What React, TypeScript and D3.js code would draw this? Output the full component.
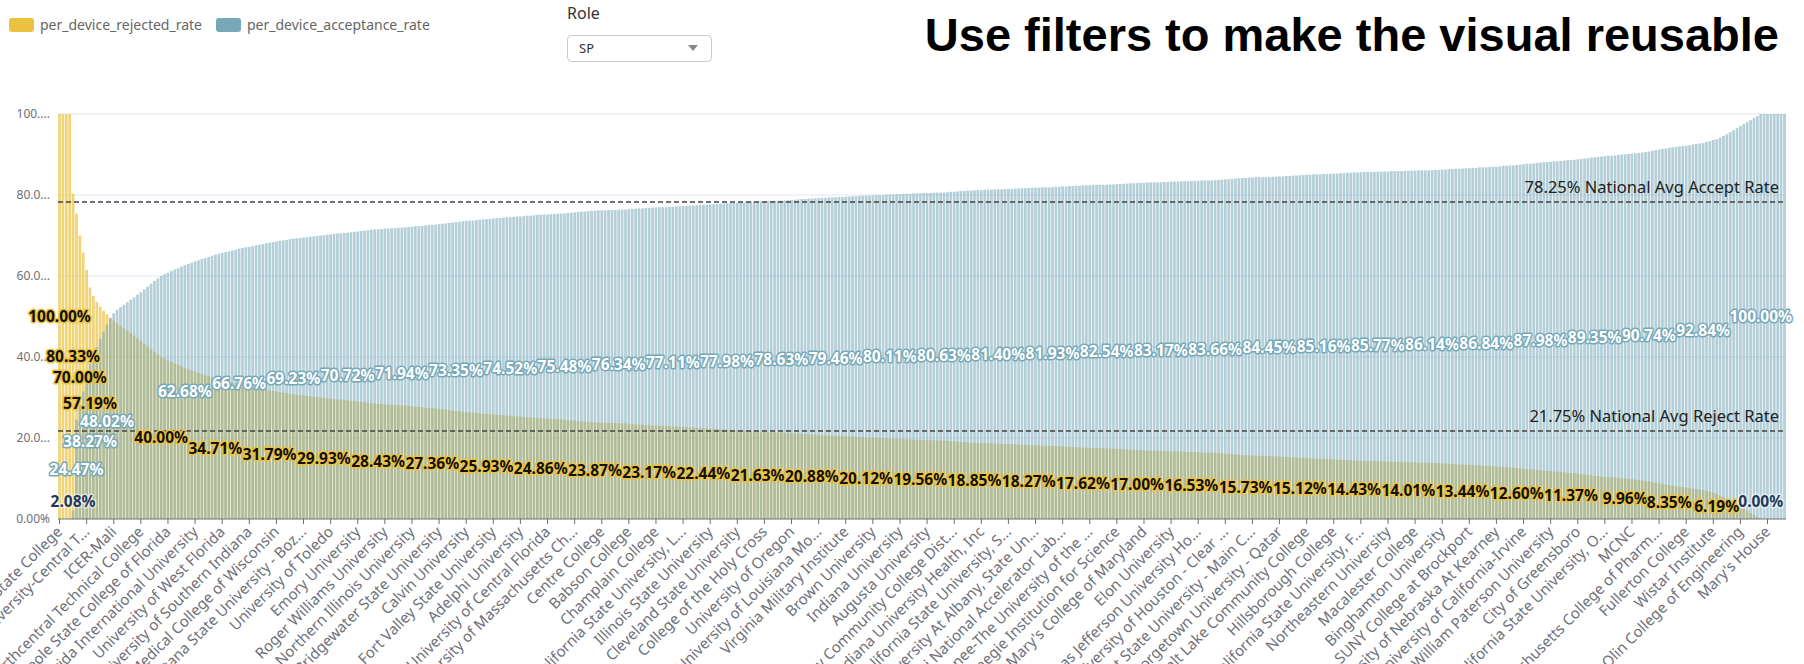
import * as d3 from 'd3';

// Per-device rejected / acceptance rate by institution (sorted by acceptance)
const rejectedRate = [
  100, 100, 100, 100, 80.33, 75.4, 70.0, 65.8, 61.5, 57.19,
  55.1, 53.6, 52.4, 51.4, 50.5, 49.7, 49.0, 48.3, 47.7, 47.1,
  46.5, 45.9, 45.3, 44.6, 44.0, 43.3, 42.6, 41.9, 41.2, 40.6,
  40.0, 39.6, 39.2, 38.8, 38.4, 38.1, 37.7, 37.32,
  37.0, 36.7, 36.4, 36.1, 35.8, 35.6, 35.3, 35.0, 34.71,
  34.5, 34.3, 34.1, 33.9, 33.7, 33.5, 33.24,
  33.1, 32.9, 32.8, 32.6, 32.4, 32.3, 32.1, 31.9, 31.79,
  31.6, 31.5, 31.3, 31.2, 31.1, 30.9, 30.77,
  30.7, 30.6, 30.5, 30.4, 30.3, 30.2, 30.1, 30.0, 29.93,
  29.8, 29.7, 29.6, 29.5, 29.5, 29.4, 29.28,
  29.2, 29.1, 29.0, 28.9, 28.8, 28.7, 28.6, 28.5, 28.43,
  28.4, 28.3, 28.3, 28.2, 28.2, 28.1, 28.06,
  28.0, 27.9, 27.8, 27.7, 27.7, 27.6, 27.5, 27.4, 27.36,
  27.3, 27.2, 27.1, 27.0, 26.9, 26.8, 26.65,
  26.6, 26.5, 26.4, 26.3, 26.3, 26.2, 26.1, 26.0, 25.93,
  25.9, 25.8, 25.7, 25.7, 25.6, 25.5, 25.48,
  25.4, 25.3, 25.3, 25.2, 25.1, 25.1, 25.0, 24.9, 24.86,
  24.8, 24.8, 24.7, 24.7, 24.6, 24.6, 24.52,
  24.4, 24.4, 24.3, 24.2, 24.1, 24.1, 24.0, 23.9, 23.87,
  23.8, 23.8, 23.8, 23.7, 23.7, 23.7, 23.66,
  23.6, 23.6, 23.5, 23.4, 23.4, 23.3, 23.3, 23.2, 23.17,
  23.1, 23.1, 23.0, 23.0, 23.0, 22.9, 22.89,
  22.8, 22.8, 22.7, 22.7, 22.6, 22.6, 22.5, 22.5, 22.44,
  22.4, 22.3, 22.3, 22.2, 22.1, 22.1, 22.02,
  22.0, 21.9, 21.9, 21.8, 21.8, 21.7, 21.7, 21.7, 21.63,
  21.6, 21.6, 21.5, 21.5, 21.4, 21.4, 21.37,
  21.3, 21.3, 21.2, 21.2, 21.1, 21.0, 21.0, 20.9, 20.88,
  20.8, 20.8, 20.7, 20.7, 20.6, 20.6, 20.54,
  20.5, 20.5, 20.4, 20.4, 20.3, 20.3, 20.2, 20.2, 20.12,
  20.1, 20.1, 20.0, 20.0, 20.0, 19.9, 19.89,
  19.85, 19.8, 19.8, 19.7, 19.7, 19.7, 19.6, 19.6, 19.56,
  19.5, 19.5, 19.5, 19.4, 19.4, 19.4, 19.37,
  19.3, 19.2, 19.2, 19.1, 19.0, 19.0, 18.9, 18.9, 18.85,
  18.8, 18.8, 18.7, 18.7, 18.7, 18.6, 18.6,
  18.6, 18.5, 18.5, 18.5, 18.4, 18.4, 18.3, 18.3, 18.27,
  18.2, 18.2, 18.2, 18.1, 18.1, 18.1, 18.07,
  18.0, 18.0, 17.9, 17.9, 17.8, 17.8, 17.7, 17.7, 17.62,
  17.6, 17.6, 17.5, 17.5, 17.5, 17.5, 17.46,
  17.4, 17.4, 17.3, 17.3, 17.2, 17.2, 17.1, 17.1, 17.0,
  17.0, 17.0, 16.9, 16.9, 16.9, 16.9, 16.83,
  16.8, 16.8, 16.7, 16.7, 16.7, 16.6, 16.6, 16.6, 16.53,
  16.5, 16.5, 16.4, 16.4, 16.4, 16.4, 16.34,
  16.3, 16.2, 16.1, 16.1, 16.0, 15.9, 15.9, 15.8, 15.73,
  15.7, 15.7, 15.6, 15.6, 15.6, 15.6, 15.55,
  15.5, 15.5, 15.4, 15.4, 15.3, 15.3, 15.2, 15.2, 15.12,
  15.1, 15.0, 15.0, 14.9, 14.9, 14.9, 14.84,
  14.8, 14.8, 14.7, 14.7, 14.6, 14.6, 14.5, 14.5, 14.43,
  14.4, 14.4, 14.3, 14.3, 14.3, 14.3, 14.23,
  14.2, 14.2, 14.2, 14.1, 14.1, 14.1, 14.1, 14.05, 14.01,
  14.0, 14.0, 13.9, 13.9, 13.9, 13.9, 13.86,
  13.8, 13.8, 13.7, 13.7, 13.6, 13.6, 13.5, 13.5, 13.44,
  13.4, 13.4, 13.3, 13.3, 13.2, 13.2, 13.16,
  13.1, 13.0, 13.0, 12.9, 12.8, 12.8, 12.7, 12.7, 12.6,
  12.5, 12.4, 12.3, 12.3, 12.2, 12.1, 12.02,
  11.9, 11.9, 11.8, 11.7, 11.7, 11.6, 11.5, 11.4, 11.37,
  11.3, 11.2, 11.1, 11.0, 10.9, 10.8, 10.65,
  10.6, 10.5, 10.4, 10.3, 10.3, 10.2, 10.1, 10.0, 9.96,
  9.9, 9.8, 9.7, 9.6, 9.5, 9.4, 9.26,
  9.1, 8.9, 8.8, 8.6, 8.5, 8.35,
  8.2, 8.1, 8.0, 7.9, 7.8, 7.7, 7.5, 7.4, 7.3, 7.16,
  6.9, 6.7, 6.4, 6.19,
  5.8, 5.4, 5.0, 4.5, 4.0, 3.5, 3.0, 2.5, 2.0, 1.5, 1.0, 0.5,
  0, 0, 0, 0, 0, 0, 0, 0,
];

const acceptanceRate = [
  0, 0, 0, 0, 2.08, 24.47, 28.0, 31.5, 35.0, 38.27,
  40.5, 42.5, 44.5, 46.3, 48.02, 49.6, 50.8, 51.7, 52.3, 52.9,
  53.5, 54.1, 54.7, 55.4, 56.0, 56.7, 57.4, 58.1, 58.8, 59.4,
  60.0, 60.4, 60.8, 61.2, 61.6, 61.9, 62.3, 62.68,
  63.0, 63.3, 63.6, 63.9, 64.2, 64.4, 64.7, 65.0, 65.29,
  65.5, 65.7, 65.9, 66.1, 66.3, 66.5, 66.76,
  66.9, 67.1, 67.2, 67.4, 67.6, 67.7, 67.9, 68.1, 68.21,
  68.4, 68.5, 68.7, 68.8, 68.9, 69.1, 69.23,
  69.3, 69.4, 69.5, 69.6, 69.7, 69.8, 69.9, 70.0, 70.07,
  70.2, 70.3, 70.4, 70.5, 70.5, 70.6, 70.72,
  70.8, 70.9, 71.0, 71.1, 71.2, 71.3, 71.4, 71.5, 71.57,
  71.6, 71.7, 71.7, 71.8, 71.8, 71.9, 71.94,
  72.0, 72.1, 72.2, 72.3, 72.3, 72.4, 72.5, 72.6, 72.64,
  72.7, 72.8, 72.9, 73.0, 73.1, 73.2, 73.35,
  73.4, 73.5, 73.6, 73.7, 73.7, 73.8, 73.9, 74.0, 74.07,
  74.1, 74.2, 74.3, 74.3, 74.4, 74.5, 74.52,
  74.6, 74.7, 74.7, 74.8, 74.9, 74.9, 75.0, 75.1, 75.14,
  75.2, 75.2, 75.3, 75.3, 75.4, 75.4, 75.48,
  75.6, 75.6, 75.7, 75.8, 75.9, 75.9, 76.0, 76.1, 76.13,
  76.2, 76.2, 76.2, 76.3, 76.3, 76.3, 76.34,
  76.4, 76.4, 76.5, 76.6, 76.6, 76.7, 76.7, 76.8, 76.83,
  76.9, 76.9, 77.0, 77.0, 77.0, 77.1, 77.11,
  77.2, 77.2, 77.3, 77.3, 77.4, 77.4, 77.5, 77.5, 77.56,
  77.6, 77.7, 77.7, 77.8, 77.9, 77.9, 77.98,
  78.0, 78.1, 78.1, 78.2, 78.2, 78.3, 78.3, 78.3, 78.37,
  78.4, 78.4, 78.5, 78.5, 78.6, 78.6, 78.63,
  78.7, 78.7, 78.8, 78.8, 78.9, 79.0, 79.0, 79.1, 79.12,
  79.2, 79.2, 79.3, 79.3, 79.4, 79.4, 79.46,
  79.5, 79.5, 79.6, 79.6, 79.7, 79.7, 79.8, 79.8, 79.88,
  79.9, 79.9, 80.0, 80.0, 80.0, 80.1, 80.11,
  80.15, 80.2, 80.2, 80.3, 80.3, 80.3, 80.4, 80.4, 80.44,
  80.5, 80.5, 80.5, 80.6, 80.6, 80.6, 80.63,
  80.7, 80.8, 80.8, 80.9, 81.0, 81.0, 81.1, 81.1, 81.15,
  81.2, 81.2, 81.3, 81.3, 81.3, 81.4, 81.4,
  81.4, 81.5, 81.5, 81.5, 81.6, 81.6, 81.7, 81.7, 81.73,
  81.8, 81.8, 81.8, 81.9, 81.9, 81.9, 81.93,
  82.0, 82.0, 82.1, 82.1, 82.2, 82.2, 82.3, 82.3, 82.38,
  82.4, 82.4, 82.5, 82.5, 82.5, 82.5, 82.54,
  82.6, 82.6, 82.7, 82.7, 82.8, 82.8, 82.9, 82.9, 83.0,
  83.0, 83.0, 83.1, 83.1, 83.1, 83.1, 83.17,
  83.2, 83.2, 83.3, 83.3, 83.3, 83.4, 83.4, 83.4, 83.47,
  83.5, 83.5, 83.6, 83.6, 83.6, 83.6, 83.66,
  83.7, 83.8, 83.9, 83.9, 84.0, 84.1, 84.1, 84.2, 84.27,
  84.3, 84.3, 84.4, 84.4, 84.4, 84.4, 84.45,
  84.5, 84.5, 84.6, 84.6, 84.7, 84.7, 84.8, 84.8, 84.88,
  84.9, 85.0, 85.0, 85.1, 85.1, 85.1, 85.16,
  85.2, 85.2, 85.3, 85.3, 85.4, 85.4, 85.5, 85.5, 85.57,
  85.6, 85.6, 85.7, 85.7, 85.7, 85.7, 85.77,
  85.8, 85.8, 85.8, 85.9, 85.9, 85.9, 85.9, 85.95, 85.99,
  86.0, 86.0, 86.1, 86.1, 86.1, 86.1, 86.14,
  86.2, 86.2, 86.3, 86.3, 86.4, 86.4, 86.5, 86.5, 86.56,
  86.6, 86.6, 86.7, 86.7, 86.8, 86.8, 86.84,
  86.9, 87.0, 87.0, 87.1, 87.2, 87.2, 87.3, 87.3, 87.4,
  87.5, 87.6, 87.7, 87.7, 87.8, 87.9, 87.98,
  88.1, 88.1, 88.2, 88.3, 88.3, 88.4, 88.5, 88.6, 88.63,
  88.7, 88.8, 88.9, 89.0, 89.1, 89.2, 89.35,
  89.4, 89.5, 89.6, 89.7, 89.7, 89.8, 89.9, 90.0, 90.04,
  90.1, 90.2, 90.3, 90.4, 90.5, 90.6, 90.74,
  90.9, 91.1, 91.2, 91.4, 91.5, 91.65,
  91.8, 91.9, 92.0, 92.1, 92.2, 92.3, 92.5, 92.6, 92.7, 92.84,
  93.1, 93.3, 93.6, 93.81,
  94.2, 94.6, 95.0, 95.5, 96.0, 96.5, 97.0, 97.5, 98.0, 98.5, 99.0, 99.5,
  100, 100, 100, 100, 100, 100, 100, 100,
];

// One axis label for every 8th institution
const institutionTicks = [
  'Lake Washington State College', 'Texas A&M University-Central T...', 'ICER-Mali',
  'Northcentral Technical College', 'Seminole State College of Florida',
  'Florida International University', 'University of West Florida',
  'University of Southern Indiana', 'Medical College of Wisconsin',
  'Montana State University - Boz...', 'University of Toledo', 'Emory University',
  'Roger Williams University', 'Northern Illinois University', 'Bridgewater State University',
  'Calvin University', 'Fort Valley State University', 'Adelphi University',
  'University of Central Florida', 'University of Massachusetts Ch...', 'Centre College',
  'Babson College', 'Champlain College', 'California State University, L...',
  'Illinois State University', 'Cleveland State University', 'College of the Holy Cross',
  'University of Oregon', 'University of Louisiana Mo...', 'Virginia Military Institute',
  'Brown University', 'Indiana University', 'Augusta University',
  'Valley Community College Dist...', 'Indiana University Health, Inc',
  'California State University, S...', 'University At Albany, State Un...',
  'Fermi National Accelerator Lab...', 'Sewanee-The University of the ...',
  'Carnegie Institution for Science', "St. Mary's College of Maryland", 'Elon University',
  'Thomas Jefferson University Ho...', 'University of Houston - Clear ...',
  'Kent State University - Main C...', 'Georgetown University - Qatar',
  'Salt Lake Community College', 'Hillsborough College', 'California State University, F...',
  'Northeastern University', 'Macalester College', 'Binghamton University',
  'SUNY College at Brockport', 'University of Nebraska At Kearney',
  'University of California-Irvine', 'William Paterson University', 'City of Greensboro',
  'California State University, O...', 'MCNC', 'Massachusetts College of Pharm...',
  'Fullerton College', 'Wistar Institute', 'Olin College of Engineering', "Mary's House",
];
const TICK_EVERY = 8;

// Bars whose value label survives overlap hiding
const rejectedLabelAt = [0, 4, 6, 9, 30, 46, 62, 78, 94, 110, 126, 142, 158, 174, 190, 206, 222,
  238, 254, 270, 286, 302, 318, 334, 350, 366, 382, 398, 414, 430, 446, 462, 475, 489, 502];
const acceptanceLabelAt = [4, 5, 9, 14, 37, 53, 69, 85, 101, 117, 133, 149, 165, 181, 197, 213,
  229, 245, 261, 277, 293, 309, 325, 341, 357, 373, 389, 405, 421, 437, 453, 469, 485, 502];

const yTicks = [0, 20, 40, 60, 80, 100];
const yTickLabels = ['0.00%', '20.0...', '40.0...', '60.0...', '80.0...', '100....'];

const avgAccept = 78.25;
const avgReject = 21.75;

const series = ['rejected', 'accepted'];
const seriesNames = ['per_device_rejected_rate', 'per_device_acceptance_rate'];
const COLORS: Record<string, string> = { rejected: '#EBC23F', accepted: '#76A8B8' };
const OPACITY: Record<string, number> = { rejected: 0.7, accepted: 0.55 };

const FONT = '"Noto Sans", "Open Sans", sans-serif';
const width = 1804;
const height = 664;
const margin = { top: 114, right: 18, bottom: 145, left: 58 };

export default function App() {
  const n = rejectedRate.length;
  // both series share the same slot (bars overlap, the later one on top)
  const x = d3.scaleBand<number>()
    .domain(d3.range(n))
    .range([margin.left, width - margin.right])
    .paddingInner(0.2)
    .paddingOuter(0.05);
  const y = d3.scaleLinear().domain([0, 100]).range([height - margin.bottom, margin.top]);
  const fmt = (v: number) => d3.format('.2f')(v) + '%';
  const y0 = y(0);
  const values: Record<string, number[]> = { rejected: rejectedRate, accepted: acceptanceRate };

  const valueLabel = (key: string, i: number) => {
    const v = values[key][i];
    const cx = (x(i) ?? 0) + x.bandwidth() / 2;
    const small = v < 3;
    const cy = small ? y0 - 17 : y(v / 2);
    const fill = small ? '#22385a' : key === 'rejected' ? '#111' : '#fff';
    const halo = small ? 'rgba(255,255,255,0.55)' : COLORS[key];
    return (
      <text key={key + i} x={cx} y={cy} dy="0.35em" textAnchor="middle" fontSize={15.5}
        fontWeight="bold" fill={fill} stroke={halo} strokeWidth={3}
        strokeLinejoin="round" style={{ paintOrder: 'stroke' }}>
        {fmt(v)}
      </text>
    );
  };

  return (
    <svg width={width} height={height} style={{ position: 'absolute', left: 0, top: 0 }}
      fontFamily={FONT}>
      <rect width={width} height={height} fill="#fff" />

      {/* legend */}
      {series.map((s, k) => (
        <g key={s} transform={`translate(${k === 0 ? 9 : 216}, 18)`}>
          <rect width={25} height={14} rx={3} fill={COLORS[s]} />
          <text x={31} y={7} dy="0.35em" fontSize={14} fill="#666">{seriesNames[k]}</text>
        </g>
      ))}

      {/* filter control */}
      <text x={567} y={13} dy="0.35em" fontSize={16} fill="#333">Role</text>
      <rect x={567.5} y={35.5} width={144} height={26} rx={4} fill="#fff" stroke="#c9c9c9" />
      <text x={579} y={48.5} dy="0.35em" fontSize={13} fill="#333">SP</text>
      <path d="M688,45 L698,45 L693,51 Z" fill="#888" />

      <text x={1779} y={51} textAnchor="end" fontSize={47} fontWeight="bold"
        fontFamily='"Liberation Sans", Arial, sans-serif' fill="#000">
        Use filters to make the visual reusable
      </text>

      {/* grid + y axis */}
      {yTicks.map((t, k) => (
        <g key={t}>
          {t > 0 && <line x1={margin.left} x2={width - margin.right} y1={y(t)} y2={y(t)} stroke="#E0E6F1" />}
          <text x={margin.left - 8} y={y(t)} dy="0.35em" textAnchor="end" fontSize={12} fill="#6E7079">
            {yTickLabels[k]}
          </text>
        </g>
      ))}

      {/* bars */}
      {series.map((s) => (
        <g key={s} fill={COLORS[s]} fillOpacity={OPACITY[s]}>
          {values[s].map((v, i) => (
            <rect key={i} x={x(i)} y={y(v)} width={x.bandwidth()} height={y0 - y(v)} />
          ))}
        </g>
      ))}

      {/* national average lines */}
      {[
        { v: avgAccept, label: `${avgAccept.toFixed(2)}% National Avg Accept Rate` },
        { v: avgReject, label: `${avgReject.toFixed(2)}% National Avg Reject Rate` },
      ].map((m) => (
        <g key={m.label}>
          <line x1={margin.left} x2={width - margin.right - 3} y1={y(m.v)} y2={y(m.v)}
            stroke="#444" strokeWidth={1.5} strokeDasharray="5,3" />
          <text x={width - margin.right - 7} y={y(m.v) - 9} textAnchor="end" fontSize={16.5} fill="#222">
            {m.label}
          </text>
        </g>
      ))}

      {/* x axis */}
      <line x1={margin.left} x2={width - margin.right} y1={y0} y2={y0} stroke="#6E7079" />
      {institutionTicks.map((name, k) => {
        const i = k * TICK_EVERY;
        const cx = (x(i) ?? 0) + x.bandwidth() / 2;
        return (
          <g key={k} transform={`translate(${cx}, ${y0})`}>
            <line y2={5} stroke="#6E7079" />
            <text transform="translate(0, 10) rotate(-45)" textAnchor="end" dy="0.35em"
              fontSize={15} fill="#6E7079">{name}</text>
          </g>
        );
      })}

      {/* value labels */}
      {rejectedLabelAt.map((i) => valueLabel('rejected', i))}
      {acceptanceLabelAt.map((i) => valueLabel('accepted', i))}
    </svg>
  );
}
